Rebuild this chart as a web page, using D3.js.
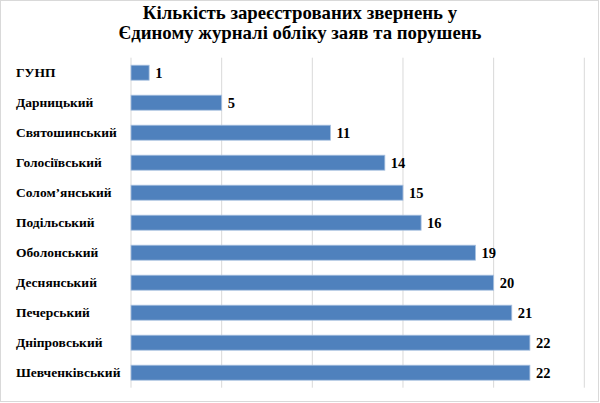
<!DOCTYPE html>
<html>
<head>
<meta charset="utf-8">
<script src="https://cdn.jsdelivr.net/npm/d3@7"></script>
<style>
  body { margin: 0; background: #fff; }
  svg text { font-family: "Liberation Serif", "Times New Roman", serif; font-weight: bold; fill: #000; }
</style>
</head>
<body>
<div id="chart"></div>
<script>
const width = 600;
const height = 403;
const margin = { top: 57.7, right: 16, bottom: 15.3, left: 131 };

const titleLines = ["Кількість зареєстрованих звернень у", "Єдиному журналі обліку заяв та порушень"];
const districts = ["ГУНП", "Дарницький", "Святошинський", "Голосіївський", "Солом’янський", "Подільський",
    "Оболонський", "Деснянський", "Печерський", "Дніпровський", "Шевченківський"];
const counts = [1, 5, 11, 14, 15, 16, 19, 20, 21, 22, 22];
const xTicks = [0, 5, 10, 15, 20, 25];

const svg = d3.select("#chart")
    .append("svg")
    .attr("width", width)
    .attr("height", height);

// outer frame
svg.append("rect")
    .attr("x", 0.5)
    .attr("y", 0.5)
    .attr("width", width - 2)
    .attr("height", height - 2)
    .attr("fill", "#fff")
    .attr("stroke", "#d9d9d9");

svg.append("text")
    .attr("x", 300)
    .attr("text-anchor", "middle")
    .style("font-size", "18.8px")
    .selectAll("tspan")
    .data(titleLines)
    .enter()
    .append("tspan")
    .attr("x", 300)
    .attr("y", (d, i) => 18.5 + i * 20.5)
    .text(d => d);

const g = svg.append("g")
    .attr("transform", `translate(${margin.left}, ${margin.top})`);

const innerW = 584.3 - margin.left;
const innerH = 330;

const xScale = d3.scaleLinear()
    .domain([0, 25])
    .range([0, innerW]);

const yScale = d3.scaleBand()
    .domain(districts)
    .range([0, innerH])
    .paddingInner(0.5)
    .paddingOuter(0.25);

g.selectAll(".grid")
    .data(xTicks)
    .enter()
    .append("line")
    .attr("class", "grid")
    .attr("x1", d => xScale(d))
    .attr("x2", d => xScale(d))
    .attr("y1", 0)
    .attr("y2", innerH)
    .attr("stroke", "#d9d9d9")
    .attr("stroke-width", 1);

const data = districts.map((d, i) => ({ name: d, value: counts[i] }));

g.selectAll(".bar")
    .data(data)
    .enter()
    .append("rect")
    .attr("class", "bar")
    .attr("x", 0)
    .attr("y", d => yScale(d.name))
    .attr("width", d => xScale(d.value))
    .attr("height", yScale.bandwidth())
    .attr("fill", "#4f81bd")
    .attr("stroke", "#a9c1e0")
    .attr("stroke-width", 0.8);

g.selectAll(".value")
    .data(data)
    .enter()
    .append("text")
    .attr("class", "value")
    .attr("x", d => xScale(d.value) + 6)
    .attr("y", d => yScale(d.name) + yScale.bandwidth() / 2)
    .attr("dy", "0.35em")
    .style("font-size", "14.5px")
    .text(d => d.value);

svg.selectAll(".label")
    .data(data)
    .enter()
    .append("text")
    .attr("class", "label")
    .attr("x", 16)
    .attr("y", d => margin.top + yScale(d.name) + yScale.bandwidth() / 2)
    .attr("dy", "0.35em")
    .style("font-size", "13.5px")
    .text(d => d.name);
</script>
</body>
</html>
